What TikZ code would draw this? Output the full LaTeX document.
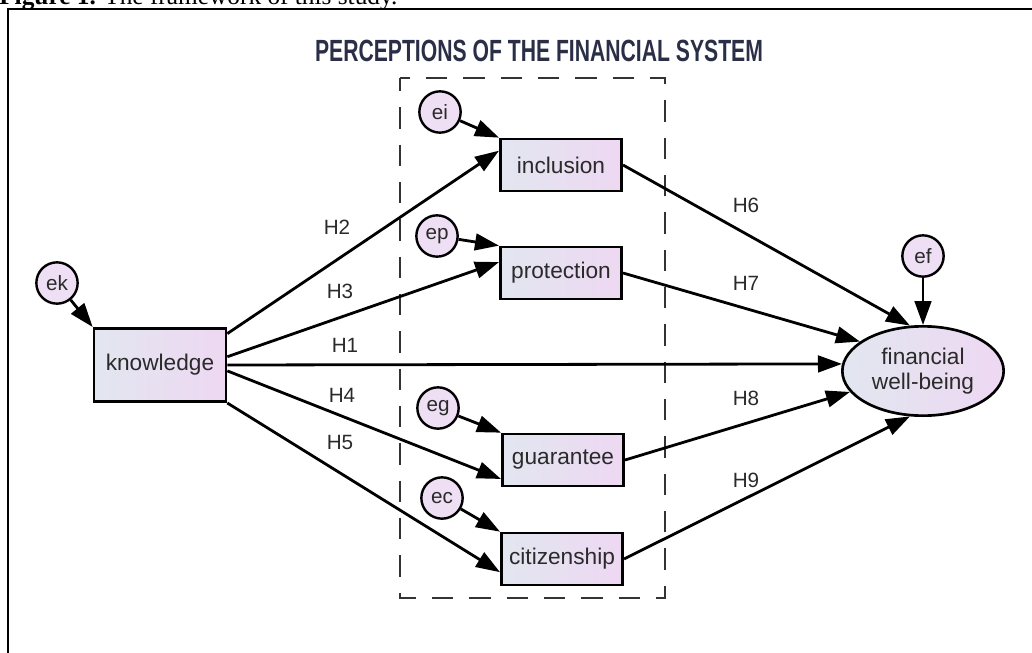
\documentclass[tikz,border=0pt]{standalone}
\usepackage{fontspec}
\setmainfont{Liberation Sans}
\newfontfamily\capfont{Liberation Serif}
\usetikzlibrary{arrows.meta}
\usetikzlibrary{shapes.geometric}

\definecolor{boxleft}{HTML}{E2E6F0}
\definecolor{boxright}{HTML}{EED8F2}
\definecolor{errfill}{HTML}{EFDFF4}
\definecolor{titleink}{HTML}{2A2F47}
\definecolor{labelink}{HTML}{2A2A2A}

\tikzset{
  obsbox/.style={draw, line width=2pt, left color=boxleft, right color=boxright,
    minimum width=91pt, minimum height=39pt, inner sep=0pt, text=labelink,
    font=\fontsize{17}{19}\selectfont},
  errcirc/.style={circle, draw, line width=1.8pt, fill=errfill, minimum size=31pt,
    inner sep=0pt, text=labelink, font=\fontsize{15.5}{17}\selectfont},
  effect/.style={line width=2.1pt, -{Triangle[length=18pt,width=12.5pt]}},
  hyp/.style={inner sep=0.75pt, text=labelink, font=\fontsize{15.5}{17}\selectfont}
}

\begin{document}
\begin{tikzpicture}[x=0.75pt,y=0.75pt,yscale=-1,xscale=1]
\useasboundingbox (0,0) rectangle (1032,653);
% caption line, cut by the top edge
\begin{scope}
\clip (0,0) rectangle (1032,9);
\node [anchor=base west, inner sep=0pt] (cap) at (-1,4) {\capfont\fontsize{19}{21}\selectfont\textbf{Figure 1.} The framework of this study.};
\end{scope}
% frame
\draw [line width=1.6pt] (8,660) -- (8,9) -- (1040,9);
% title
\node [text=titleink, inner sep=0pt] (title) at (539,51) {\scalebox{0.69}[1]{\bfseries\fontsize{23}{25}\selectfont PERCEPTIONS OF THE FINANCIAL SYSTEM}};
% dashed group
\draw [line width=1.6pt, color=black!80, dash pattern=on 16pt off 12pt, dash phase=6pt] (400,78) rectangle (665,598);

% Observed variables
\node [obsbox, minimum width=99pt, minimum height=55pt] (know) at (160,365) {knowledge};
\node [obsbox] (incl) at (561,165) {inclusion};
\node [obsbox] (prot) at (561,273) {protection};
\node [obsbox] (guar) at (563,460) {guarantee};
\node [obsbox] (citz) at (562,559) {citizenship};
% Latent outcome
\node [ellipse, draw, line width=2pt, left color=boxleft, right color=boxright,
  minimum width=121pt, minimum height=67pt, inner sep=0pt, align=center, text=labelink,
  font=\fontsize{17}{19}\selectfont] (fwb) at (923,371) {financial\\well-being};

% Error terms
\node [errcirc] (ek) at (57,283) {ek};
\node [errcirc] (ei) at (440,112) {ei};
\node [errcirc] (ep) at (437,236) {ep};
\node [errcirc] (eg) at (438,408) {eg};
\node [errcirc] (ec) at (442,498) {ec};
\node [errcirc] (ef) at (923,256) {ef};

\draw [effect] (ek) -- (know.north west);
\draw [effect] (ei) -- (incl.north west);
\draw [effect] (ep) -- (prot.north west);
\draw [effect] (eg) -- (guar.north west);
\draw [effect] (ec) -- (citz.north west);
\draw [effect] (ef) -- (fwb.north);

% Paths from knowledge
\draw [effect] (know.25) -- (incl.167);
\draw [effect] (know.7) -- (prot.170);
\draw [effect] (know.east) -- (fwb.175);
\draw [effect] (know.-5) -- (guar.197);
\draw [effect] (know.south east) -- (citz.192);
% Paths into well-being
\draw [effect] (incl.east) -- (fwb.106);
\draw [effect] (prot.east) -- (fwb.155);
\draw [effect] (guar.east) -- (fwb.196);
\draw [effect] (citz.east) -- (fwb.254);

% Text Node
\node [hyp] (h2) at (337,227) {H2};
\node [hyp] (h3) at (340,291) {H3};
\node [hyp] (h1) at (345,345) {H1};
\node [hyp] (h4) at (342,395) {H4};
\node [hyp] (h5) at (340,442) {H5};
\node [hyp] (h6) at (746,205) {H6};
\node [hyp] (h7) at (746,283) {H7};
\node [hyp] (h8) at (746,398) {H8};
\node [hyp] (h9) at (746,480) {H9};
\end{tikzpicture}
\end{document}
